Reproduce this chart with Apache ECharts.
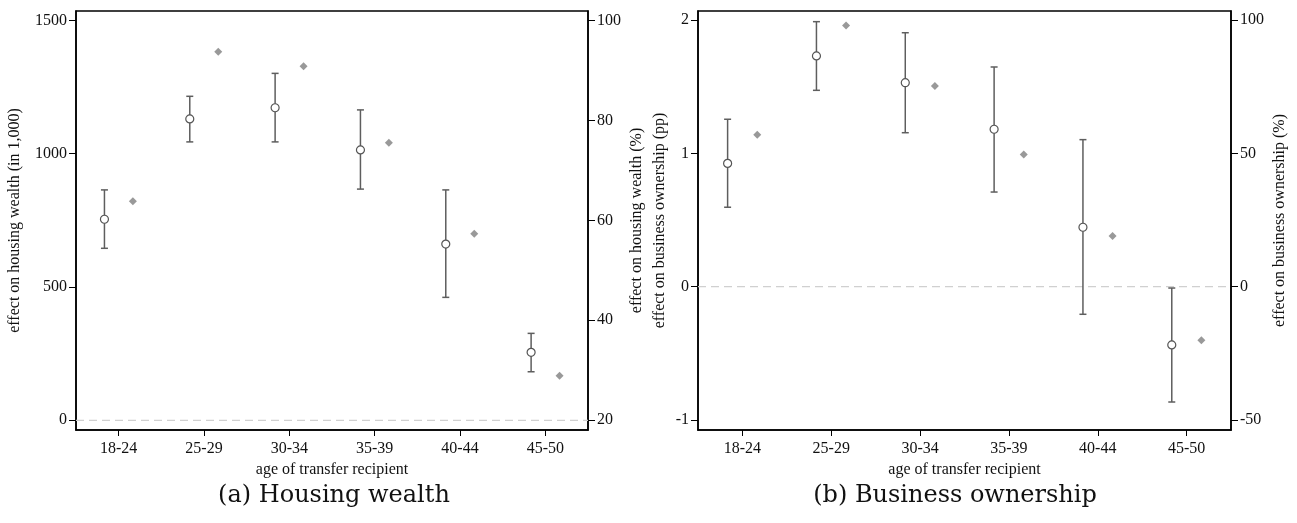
<!DOCTYPE html>
<html>
<head>
<meta charset="utf-8">
<script src="https://cdn.jsdelivr.net/npm/echarts@6/dist/echarts.min.js"></script>
<style>
html,body{margin:0;padding:0;background:#fff;}
#chart{width:1297px;height:523px;}
</style>
</head>
<body>
<div id="chart"></div>
<script>
// ---- data ----
const categories = ['18-24', '25-29', '30-34', '35-39', '40-44', '45-50'];

const housingEst = [754, 1130, 1172, 1014, 661, 255];
const housingLo  = [645, 1044, 1044, 867, 461, 182];
const housingHi  = [864, 1215, 1301, 1164, 864, 326];
const housingPct = [63.8, 93.7, 90.8, 75.5, 57.3, 28.9];

const businessEst = [0.925, 1.731, 1.530, 1.181, 0.446, -0.437];
const businessLo  = [0.596, 1.473, 1.155, 0.710, -0.207, -0.865];
const businessHi  = [1.256, 1.988, 1.905, 1.648, 1.103, -0.010];
const businessPct = [57.0, 98.0, 75.3, 49.6, 19.0, -20.1];

const housingTicks = [0, 500, 1000, 1500];
const housingPctTicks = [20, 40, 60, 80, 100];
const businessTicks = [-1, 0, 1, 2];
const businessPctTicks = [-50, 0, 50, 100];

const xTicks = [1, 2, 3, 4, 5, 6];

// ---- styling helpers ----
const FONT = "'Liberation Serif', 'Times New Roman', serif";
const CAPFONT = "'DejaVu Serif', 'Liberation Serif', serif";
const OFF = 1 / 6;

function xAxisFor(gridIndex) {
  return {
    type: 'value', gridIndex: gridIndex, min: 0.5, max: 6.5,
    name: 'age of transfer recipient', nameLocation: 'middle', nameGap: 26,
    nameTextStyle: { fontFamily: FONT, fontSize: 16, color: '#111' },
    axisLine: { show: true, onZero: false, lineStyle: { color: '#000', width: 1.5 } },
    axisTick: { show: true, inside: false, length: 6, customValues: xTicks, lineStyle: { color: '#000', width: 1 } },
    axisLabel: { customValues: xTicks, margin: 11, fontFamily: FONT, fontSize: 16, color: '#111',
      formatter: v => categories[Math.round(v) - 1] || '' },
    splitLine: { show: false }
  };
}
function yAxisFor(gridIndex, pos, min, max, ticks, name, gap) {
  return {
    type: 'value', gridIndex: gridIndex, position: pos, min: min, max: max,
    name: name, nameLocation: 'middle', nameGap: gap, nameRotate: 90,
    nameTextStyle: { fontFamily: FONT, fontSize: 16, color: '#111' },
    axisLine: { show: true, onZero: false, lineStyle: { color: '#000', width: 1.5 } },
    axisTick: { show: true, inside: false, length: 7, customValues: ticks, lineStyle: { color: '#000', width: 1 } },
    axisLabel: { customValues: ticks, margin: 9, fontFamily: FONT, fontSize: 16, color: '#111',
      formatter: v => String(v) },
    splitLine: { show: false }
  };
}

function errorBarSeries(xIdx, yIdx, lo, hi) {
  return {
    type: 'custom', xAxisIndex: xIdx, yAxisIndex: yIdx,
    encode: { x: 0, y: [1, 2] },
    data: lo.map((l, i) => [i + 1 - OFF, l, hi[i]]),
    renderItem: function (params, api) {
      const x = api.value(0);
      const top = api.coord([x, api.value(2)]);
      const bot = api.coord([x, api.value(1)]);
      const w = 3.5;
      const st = { stroke: '#5e5e5e', lineWidth: 1.5 };
      return {
        type: 'group',
        children: [
          { type: 'line', shape: { x1: top[0], y1: top[1], x2: bot[0], y2: bot[1] }, style: st },
          { type: 'line', shape: { x1: top[0] - w, y1: top[1], x2: top[0] + w, y2: top[1] }, style: st },
          { type: 'line', shape: { x1: bot[0] - w, y1: bot[1], x2: bot[0] + w, y2: bot[1] }, style: st }
        ]
      };
    },
    z: 2
  };
}
function zeroLine(xIdx, yIdx) {
  return {
    type: 'line', xAxisIndex: xIdx, yAxisIndex: yIdx,
    data: [[0.5, 0], [6.5, 0]], symbol: 'none', silent: true,
    lineStyle: { color: '#d0d0d0', type: [8, 5], width: 1.3 },
    z: 1
  };
}
function estSeries(xIdx, yIdx, est) {
  return {
    type: 'scatter', xAxisIndex: xIdx, yAxisIndex: yIdx,
    data: est.map((v, i) => [i + 1 - OFF, v]),
    symbol: 'circle', symbolSize: 8,
    itemStyle: { color: '#fff', borderColor: '#555', borderWidth: 1.2, opacity: 1 },
    z: 3
  };
}
function pctSeries(xIdx, yIdx, pct) {
  return {
    type: 'scatter', xAxisIndex: xIdx, yAxisIndex: yIdx,
    data: pct.map((v, i) => [i + 1 + OFF, v]),
    symbol: 'diamond', symbolSize: 8,
    itemStyle: { color: '#999', opacity: 1 },
    z: 3
  };
}

// axis ranges chosen so the panel boxes match
const hMin = -36.4, hMax = 1534.9;
const hpMin = 20 + hMin * 80 / 1500, hpMax = 20 + hMax * 80 / 1500;
const bMin = -1.075, bMax = 2.068;

const option = {
  animation: false,
  backgroundColor: '#fff',
  title: [
    { text: '(a) Housing wealth', left: 329, top: 479, textAlign: 'center',
      textStyle: { fontFamily: CAPFONT, fontSize: 24, fontWeight: 'normal', color: '#111' } },
    { text: '(b) Business ownership', left: 950, top: 479, textAlign: 'center',
      textStyle: { fontFamily: CAPFONT, fontSize: 24, fontWeight: 'normal', color: '#111' } }
  ],
  grid: [
    { left: 76, right: 709, top: 11, bottom: 93, show: true, borderColor: '#000', borderWidth: 1.5, containLabel: false },
    { left: 698, right: 66, top: 11, bottom: 93, show: true, borderColor: '#000', borderWidth: 1.5, containLabel: false }
  ],
  xAxis: [xAxisFor(0), xAxisFor(1)],
  yAxis: [
    yAxisFor(0, 'left', hMin, hMax, housingTicks, 'effect on housing wealth (in 1,000)', 53),
    yAxisFor(0, 'right', hpMin, hpMax, housingPctTicks, 'effect on housing wealth (%)', 41),
    yAxisFor(1, 'left', bMin, bMax, businessTicks, 'effect on business ownership (pp)', 30),
    yAxisFor(1, 'right', bMin * 50, bMax * 50, businessPctTicks, 'effect on business ownership (%)', 41)
  ],
  series: [
    zeroLine(0, 0),
    errorBarSeries(0, 0, housingLo, housingHi),
    estSeries(0, 0, housingEst),
    pctSeries(0, 1, housingPct),
    zeroLine(1, 2),
    errorBarSeries(1, 2, businessLo, businessHi),
    estSeries(1, 2, businessEst),
    pctSeries(1, 3, businessPct)
  ]
};

const chart = echarts.init(document.getElementById('chart'), null, { renderer: 'canvas' });
chart.setOption(option);
</script>
</body>
</html>
